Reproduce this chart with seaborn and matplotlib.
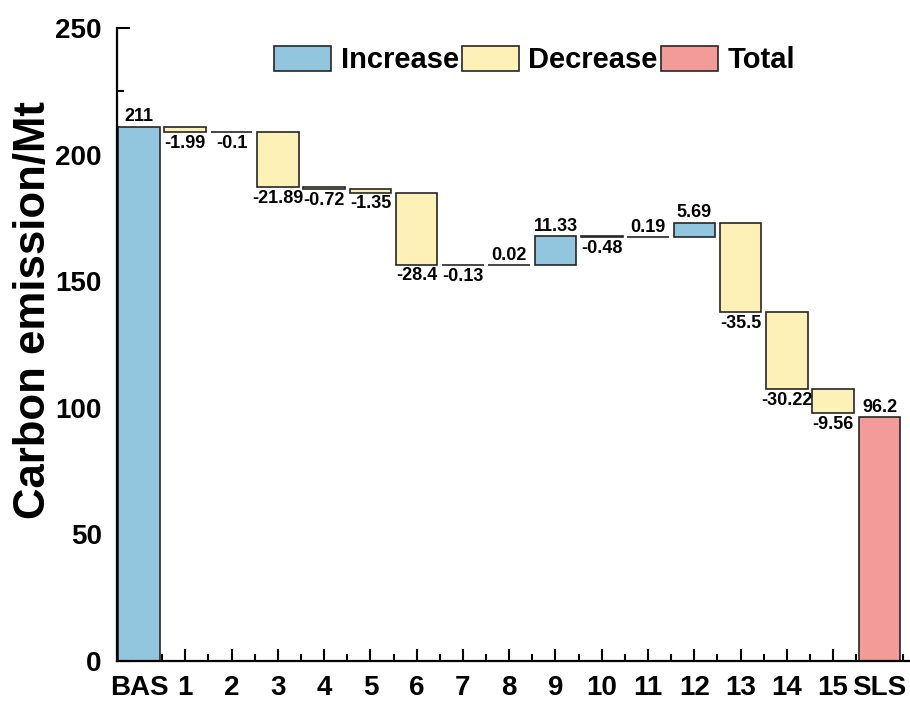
import numpy as np
import pandas as pd
import matplotlib
matplotlib.use("Agg")
import matplotlib.pyplot as plt
import seaborn as sns
from matplotlib.patches import Patch
from matplotlib.ticker import MultipleLocator, FixedLocator

# ---------------- data ----------------
categories = ["BAS"] + [str(i) for i in range(1, 16)] + ["SLS"]
base_value = 211
changes = [-1.99, -0.1, -21.89, -0.72, -1.35, -28.4, -0.13, 0.02,
           11.33, -0.48, 0.19, 5.69, -35.5, -30.22, -9.56]
total_value = 96.2
value_labels = ["211", "-1.99", "-0.1", "-21.89", "-0.72", "-1.35", "-28.4",
                "-0.13", "0.02", "11.33", "-0.48", "0.19", "5.69", "-35.5",
                "-30.22", "-9.56", "96.2"]
legend_labels = ["Increase", "Decrease", "Total"]

colors = {"Increase": "#92C5DE", "Decrease": "#FDF1B8", "Total": "#F29B99"}

# ---------------- build waterfall table ----------------
values = [base_value] + changes + [total_value]
kinds = ["Increase"] + ["Increase" if c > 0 else "Decrease" for c in changes] + ["Total"]
bottoms = [0.0]
running = base_value
for c in changes:
    bottoms.append(min(running, running + c))
    running += c
bottoms.append(0.0)
heights = [abs(v) for v in values]
df = pd.DataFrame({"cat": categories, "height": heights, "bottom": bottoms,
                   "kind": kinds, "label": value_labels})

# ---------------- style ----------------
sns.set_theme(style="ticks")
plt.rcParams["font.family"] = ["Liberation Sans", "DejaVu Sans"]
plt.rcParams["font.weight"] = "bold"
plt.rcParams["axes.labelweight"] = "bold"
plt.rcParams["text.color"] = "black"
plt.rcParams["axes.labelcolor"] = "black"
plt.rcParams["xtick.color"] = "black"
plt.rcParams["ytick.color"] = "black"
plt.rcParams["xtick.labelcolor"] = "black"
plt.rcParams["ytick.labelcolor"] = "black"

fig = plt.figure(figsize=(9.1, 7.03), dpi=100)
ax = fig.add_axes([117 / 910, 42 / 703, 793 / 910, 633 / 703])

sns.barplot(data=df, x="cat", y="height", hue="cat",
            palette=[colors[k] for k in kinds], legend=False,
            width=0.9, edgecolor="#262626", linewidth=1.2,
            saturation=1, errorbar=None, ax=ax)

bars = list(ax.patches)
for bar, b, h in zip(bars, df["bottom"], df["height"]):
    bar.set_y(b)
    bar.set_height(h)

for i, row in df.iterrows():
    if row["kind"] == "Decrease":
        ax.annotate(row["label"], (i, row["bottom"]), xytext=(0, -2),
                    textcoords="offset points", ha="center", va="top",
                    fontsize=13, fontweight="bold", color="black")
    else:
        ax.annotate(row["label"], (i, row["bottom"] + row["height"]), xytext=(0, 1),
                    textcoords="offset points", ha="center", va="bottom",
                    fontsize=13, fontweight="bold", color="black")

ax.set_xlim(-0.475, 16.66)
ax.set_ylim(0, 250)
ax.yaxis.set_major_locator(MultipleLocator(50))
ax.yaxis.set_minor_locator(MultipleLocator(25))
ax.xaxis.set_minor_locator(FixedLocator(np.arange(0.5, 17, 1)))

for s in ["top", "right"]:
    ax.spines[s].set_visible(False)
for s in ["left", "bottom"]:
    ax.spines[s].set_linewidth(1.6)
    ax.spines[s].set_color("black")

ax.tick_params(axis="both", which="major", direction="in", length=9, width=1.5,
               labelsize=20, color="black", labelcolor="black")
ax.tick_params(axis="both", which="minor", direction="in", length=5, width=1.5,
               color="black")
ax.tick_params(axis="x", which="major", pad=10)
ax.tick_params(axis="y", which="major", pad=11)
for lab in ax.get_xticklabels() + ax.get_yticklabels():
    lab.set_fontweight("bold")

ax.set_xlabel("")
ax.set_ylabel("Carbon emission/Mt", fontsize=31.5, fontweight="bold", color="black")
ax.yaxis.set_label_coords(-0.08, 0.5545)

handles = [Patch(facecolor=colors[k], edgecolor="#262626", linewidth=1.2)
           for k in legend_labels]
ax.legend(handles, legend_labels, ncol=3, loc="center",
          bbox_to_anchor=(0.5265, 0.949), frameon=False,
          prop={"size": 21, "weight": "bold"}, handlelength=1.95,
          handleheight=0.92, handletextpad=0.34, columnspacing=0.1,
          borderaxespad=0, borderpad=0)

fig.savefig("out.png", dpi=100)
